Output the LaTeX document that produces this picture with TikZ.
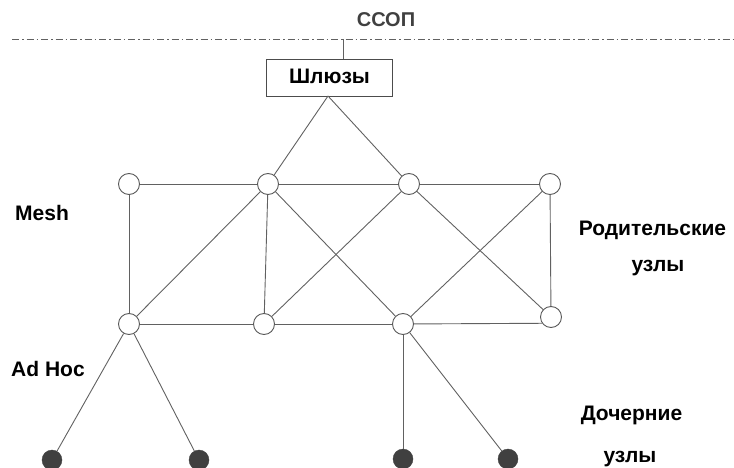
\documentclass[tikz,border=0pt]{standalone}
\usepackage{fontspec}
\setmainfont{Liberation Sans}
\begin{document}
\begin{tikzpicture}[x=1pt,y=-1pt,
  link/.style={draw=black!62,line width=0.9pt},
  parent/.style={circle,draw=black!65,fill=white,line width=0.9pt,minimum size=21pt,inner sep=0pt},
  child/.style={circle,draw=black!75,fill=black!75,minimum size=20pt,inner sep=0pt},
  lbl/.style={font=\fontsize{21}{24}\selectfont\bfseries,text=black,inner sep=0pt},
  gate/.style={draw=black!70,fill=white,line width=0.8pt,minimum width=126pt,minimum height=37pt,inner sep=0pt}]
\useasboundingbox (0,0) rectangle (734,468);

% network boundary
\coordinate (bl) at (12,39);
\coordinate (br) at (734,39);
\draw[link,dash pattern=on 7pt off 3pt on 1.5pt off 3pt] (bl) -- (br);
\node[lbl,text=black!75,font=\fontsize{20}{24}\selectfont\bfseries,anchor=base] (ssop) at (386,27) {ССОП};

% gateway
\node[gate] (gw) at (329.5,77.5) {};
\node[lbl,anchor=base] (gwtext) at (329.5,83.5) {Шлюзы};
\coordinate (gwtop) at (343,39);
\coordinate (apex) at (328,96);
\draw[link] (gwtop) -- (gw.north -| gwtop);

% parent nodes
\node[parent] (c1) at (129,184) {};
\node[parent] (c2) at (268,184) {};
\node[parent] (c3) at (409,184) {};
\node[parent] (c4) at (550,184) {};
\node[parent] (b1) at (129,324) {};
\node[parent] (b2) at (264,324) {};
\node[parent] (b3) at (403,324) {};
\node[parent] (b4) at (551,317) {};

% child nodes
\node[child] (d1) at (52,460) {};
\node[child] (d2) at (199,460) {};
\node[child] (d3) at (403,459) {};
\node[child] (d4) at (508,459) {};

% links
\draw[link] (apex) -- (c2);
\draw[link] (apex) -- (c3);
\draw[link] (c1) -- (c2) -- (c3) -- (c4);
\draw[link] (b1) -- (b2) -- (b3);
\draw[link] (b3) -- (b4.215);
\draw[link] (c1) -- (b1);
\draw[link] (c2) -- (b2);
\draw[link] (c4) -- (b4);
\draw[link] (b1) -- (c2);
\draw[link] (b2) -- (c3);
\draw[link] (b3) -- (c4);
\draw[link] (c2) -- (b3);
\draw[link] (c3) -- (b4);
\draw[link] (b1) -- (d1);
\draw[link] (b1) -- (d2);
\draw[link] (b3) -- (d3);
\draw[link] (b3) -- (d4);

% labels
\node[lbl,anchor=base west] (mesh) at (15,221) {Mesh};
\node[lbl,anchor=base west] (adhoc) at (11,376) {Ad Hoc};
\node[lbl,anchor=base] (par1) at (652.5,235) {Родительские};
\node[lbl,anchor=base] (par2) at (658,271) {узлы};
\node[lbl,anchor=base] (ch1) at (631.5,420) {Дочерние};
\node[lbl,anchor=base] (ch2) at (630,462) {узлы};
\end{tikzpicture}
\end{document}
